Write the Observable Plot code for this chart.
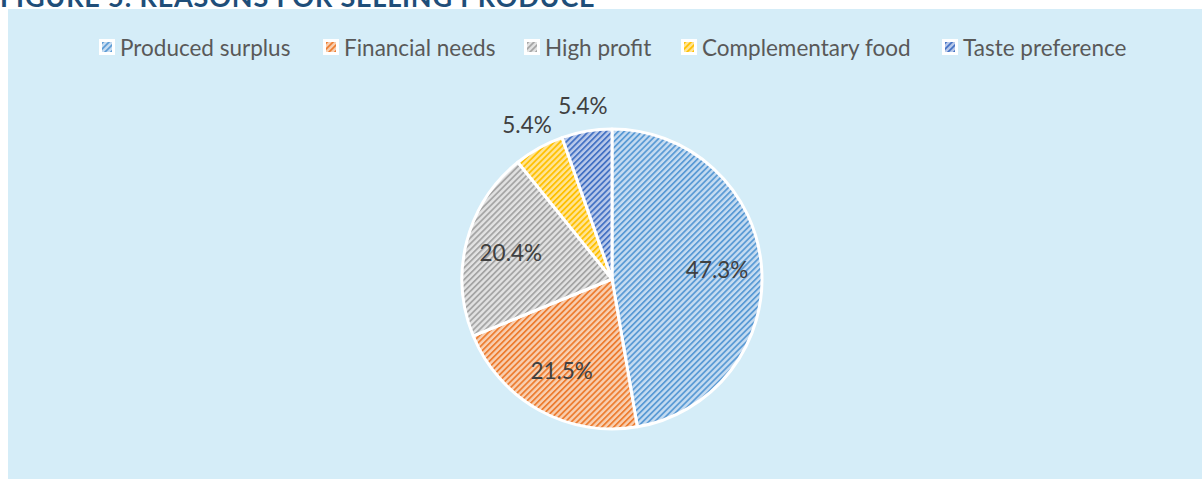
<!DOCTYPE html>
<html>
<head>
<meta charset="utf-8">
<script src="https://cdn.jsdelivr.net/npm/d3@7"></script>
<script src="https://cdn.jsdelivr.net/npm/@observablehq/plot@0.6"></script>
<style>
  html, body { margin: 0; padding: 0; background: #ffffff; }
  body { width: 1202px; height: 479px; overflow: hidden; position: relative; font-family: Lato, "Open Sans", sans-serif; }
  #title { position: absolute; left: 0; top: 0; width: 800px; height: 9px; overflow: hidden; }
  #title span { position: absolute; left: 0; top: -17px; font-size: 27px; line-height: 27px; font-weight: 700; color: #1f4e79; white-space: nowrap; letter-spacing: 0.8px; }
  #panel { position: absolute; left: 8px; top: 9px; width: 1194px; height: 470px; background: #d5edf8; }
  #legend { position: absolute; left: 0; top: 0; width: 1194px; height: 60px; }
  .item { position: absolute; top: 26px; height: 24px; display: flex; align-items: center; font-size: 22.5px; color: #595959; white-space: nowrap; }
  .item svg { margin-right: 5px; }
  #chart { position: absolute; left: 0; top: 60px; }
</style>
</head>
<body>
<svg width="0" height="0" style="position:absolute">
  <defs id="defs"></defs>
</svg>
<div id="title"><span id="titletext"></span></div>
<div id="panel">
  <div id="legend"></div>
  <div id="chart"></div>
</div>
<script>
// ---- data ----
const title = "FIGURE 5: REASONS FOR SELLING PRODUCE";
const categories = ["Produced surplus", "Financial needs", "High profit", "Complementary food", "Taste preference"];
const shares = [47.3, 21.5, 20.4, 5.4, 5.4];
const baseColors = ["#c6dcf1", "#f8cfb1", "#e2e2e2", "#ffe494", "#b9c9ea"];
const stripeColors = ["#5b9bd5", "#ed7d31", "#a5a5a5", "#ffc000", "#4472c4"];
const legendX = [99, 323, 524, 681, 942];

document.getElementById("titletext").textContent = title;

// patterns
const defs = d3.select("#defs");
categories.forEach((c, i) => {
  const p = defs.append("pattern")
    .attr("id", "pat" + i)
    .attr("patternUnits", "userSpaceOnUse")
    .attr("width", 4.2).attr("height", 4.2)
    .attr("patternTransform", "rotate(45)");
  p.append("rect").attr("width", 4.2).attr("height", 4.2).attr("fill", baseColors[i]);
  p.append("rect").attr("width", 1.8).attr("height", 4.2).attr("fill", stripeColors[i]);
});

// legend
const legend = d3.select("#legend");
categories.forEach((c, i) => {
  const it = legend.append("div").attr("class", "item").style("left", (legendX[i] - 8) + "px");
  const s = it.append("svg").attr("width", 16).attr("height", 16);
  s.append("rect").attr("x", 0).attr("y", 0).attr("width", 16).attr("height", 16).attr("fill", "#ffffff");
  s.append("rect").attr("x", 3).attr("y", 3).attr("width", 10).attr("height", 10).attr("fill", `url(#pat${i})`);
  it.append("span").text(c);
});

// pie geometry from values
const data = categories.map((c, i) => ({ category: c, value: shares[i], i }));
const arcs = d3.pie().sort(null).value(d => d.value)(data);
const labels = arcs.map(a => {
  const mid = (a.startAngle + a.endAngle) / 2;
  const f = a.data.value > 10 ? 0.7 : 1.17;
  return { x: f * Math.sin(mid), y: f * Math.cos(mid), text: a.data.value.toFixed(1) + "%" };
});

function slices(index, scales, values, dimensions, context) {
  const x = scales.x, y = scales.y;
  const cx = x(0), cy = y(0), r = x(1) - x(0);
  const arc = d3.arc().innerRadius(0).outerRadius(r);
  const g = d3.create("svg:g").attr("transform", `translate(${cx},${cy})`);
  g.selectAll("path").data(arcs).join("path")
    .attr("d", arc)
    .attr("fill", d => `url(#pat${d.data.i})`)
    .attr("stroke", "#ffffff")
    .attr("stroke-width", 3)
    .attr("stroke-linejoin", "round");
  return g.node();
}

const plot = Plot.plot({
  width: 1194,
  height: 410,
  marginLeft: 454,
  marginRight: 440,
  marginTop: 60,
  marginBottom: 50,
  x: { domain: [-1, 1], axis: null },
  y: { domain: [-1, 1], axis: null },
  style: { background: "none", fontFamily: "Lato, 'Open Sans', sans-serif", overflow: "visible" },
  marks: [
    slices,
    Plot.text(labels, { x: "x", y: "y", text: "text", fontSize: 22.5, fill: "#404040" })
  ]
});
document.getElementById("chart").appendChild(plot);
</script>
</body>
</html>
